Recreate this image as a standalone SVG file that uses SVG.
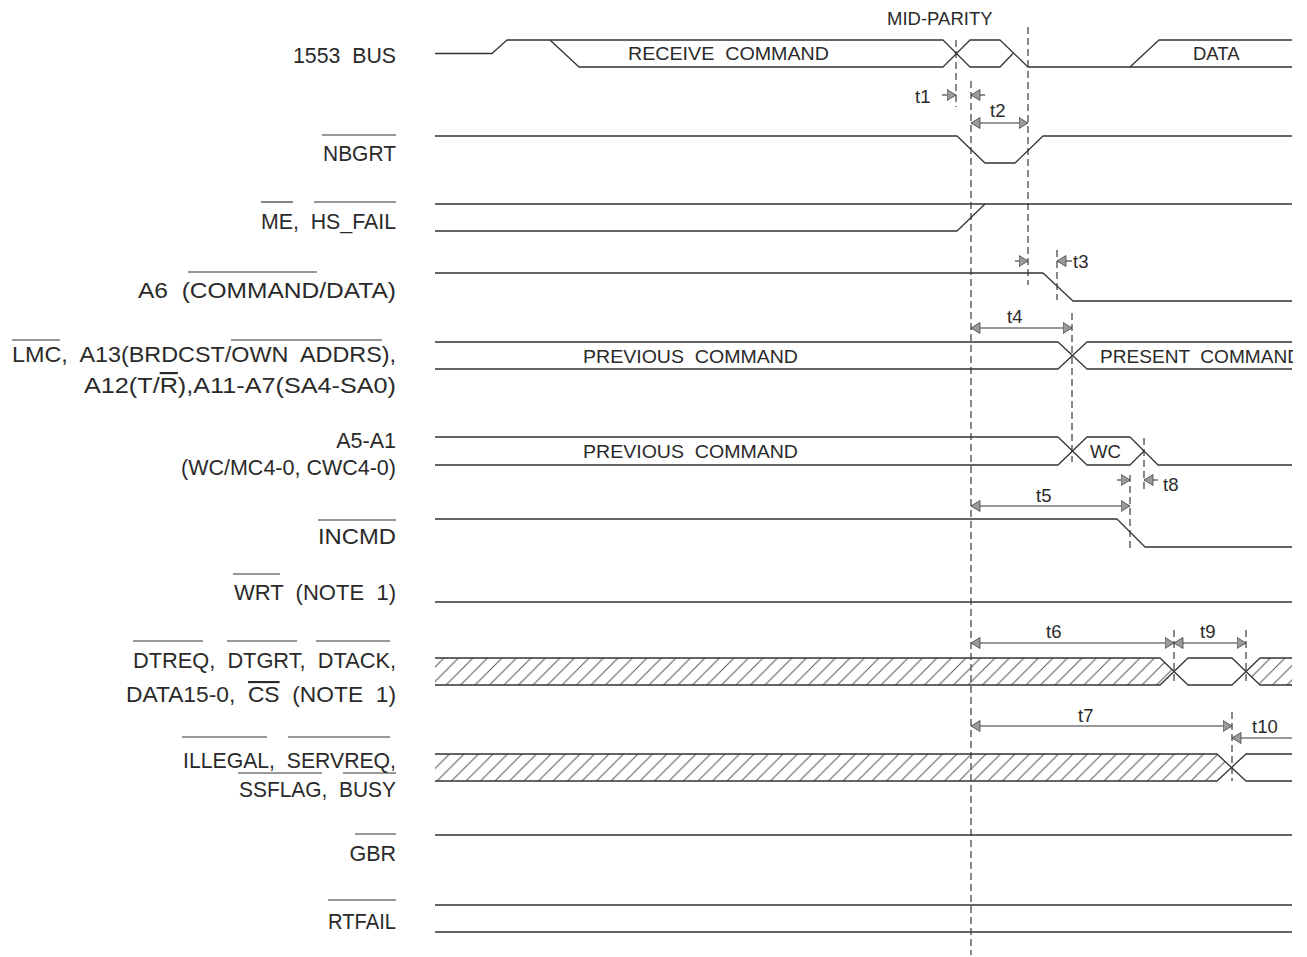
<svg xmlns="http://www.w3.org/2000/svg" width="1307" height="957" viewBox="0 0 1307 957">
<defs>
<style>
.sig{fill:none;stroke:#333;stroke-width:1.3;stroke-linejoin:round}
.ov{stroke:#333;stroke-width:1.2}
.guide{fill:none;stroke:#3a3a3a;stroke-width:1.2;stroke-dasharray:7 4}
.dim{fill:none;stroke:#333;stroke-width:1.1}
.lbl{font-family:"Liberation Sans",Arial,sans-serif;font-size:21.5px;fill:#2a2a2a;text-anchor:end}
.in{font-family:"Liberation Sans",Arial,sans-serif;font-size:18.5px;fill:#2a2a2a}
.hatch{fill:url(#hatch);stroke:none}
</style>
<pattern id="hatch" patternUnits="userSpaceOnUse" width="14.5" height="14.5">
<path d="M0,14.5 L14.5,0 M-3.625,3.625 L3.625,-3.625 M10.875,18.125 L18.125,10.875" stroke="#555" stroke-width="1"/>
</pattern>
<marker id="ah" markerUnits="userSpaceOnUse" markerWidth="13" markerHeight="13" viewBox="0 0 13 13" refX="9.5" refY="6" orient="auto-start-reverse">
<path d="M0.5,0.5 L9.5,6 L0.5,11.5 Z" fill="#9a9a9a" stroke="#444" stroke-width="0.8"/>
</marker>
<clipPath id="rclip"><rect x="0" y="0" width="1293" height="957"/></clipPath>
</defs>
<rect width="1307" height="957" fill="#ffffff"/>

<g id="guides">
<line class="guide" x1="956" y1="40" x2="956" y2="107"/>
<line class="guide" x1="971" y1="81" x2="971" y2="955"/>
<line class="guide" x1="1028" y1="27" x2="1028" y2="285"/>
<line class="guide" x1="1057" y1="250" x2="1057" y2="300"/>
<line class="guide" x1="1072" y1="313" x2="1072" y2="462"/>
<line class="guide" x1="1144" y1="438" x2="1144" y2="492"/>
<line class="guide" x1="1130" y1="475" x2="1130" y2="548"/>
<line class="guide" x1="1174" y1="630" x2="1174" y2="685"/>
<line class="guide" x1="1246" y1="630" x2="1246" y2="685"/>
<line class="guide" x1="1232" y1="712" x2="1232" y2="781"/>
</g>

<g id="sig-1553bus">
<text class="lbl" x="396" y="63" xml:space="preserve" textLength="103" lengthAdjust="spacingAndGlyphs">1553  BUS</text>
<path class="sig" d="M435,53.5 L492,53.5 L507,40 L943,40 L970,67 L1000,67 L1013,53.5"/>
<path class="sig" d="M550,40 L579,67 L943,67 L970,40 L1000,40 L1028,67 L1292,67"/>
<path class="sig" d="M1130,67 L1159,40 L1292,40"/>
<text class="in" x="628" y="60" xml:space="preserve" textLength="201" lengthAdjust="spacingAndGlyphs">RECEIVE  COMMAND</text>
<text class="in" x="1193" y="60">DATA</text>
<text class="in" x="887" y="25" font-size="18">MID-PARITY</text>
</g>

<g id="sig-nbgrt">
<text class="lbl" x="396" y="161" textLength="73" lengthAdjust="spacingAndGlyphs">NBGRT</text>
<line class="ov" x1="322" y1="135" x2="396" y2="135"/>
<path class="sig" d="M435,136 L957,136 L985,163 L1015,163 L1043,136 L1292,136"/>
</g>

<g id="sig-me-hsfail">
<text class="lbl" x="396" y="229" xml:space="preserve" textLength="135" lengthAdjust="spacingAndGlyphs">ME,  HS_FAIL</text>
<line class="ov" x1="261" y1="202" x2="293" y2="202"/>
<line class="ov" x1="314" y1="202" x2="396" y2="202"/>
<path class="sig" d="M435,204 L1292,204"/>
<path class="sig" d="M435,231 L957,231 L985,204"/>
</g>

<g id="sig-a6">
<text class="lbl" x="396" y="298" xml:space="preserve" textLength="258" lengthAdjust="spacingAndGlyphs">A6  (COMMAND/DATA)</text>
<line class="ov" x1="188" y1="272" x2="317" y2="272"/>
<path class="sig" d="M435,273 L1043,273 L1073,301 L1292,301"/>
</g>

<g id="sig-lmc">
<text class="lbl" x="396" y="362" xml:space="preserve" textLength="384" lengthAdjust="spacingAndGlyphs">LMC,  A13(BRDCST/OWN  ADDRS),</text>
<text class="lbl" x="396" y="393" textLength="312" lengthAdjust="spacingAndGlyphs">A12(T/<tspan text-decoration="overline">R</tspan>),A11-A7(SA4-SA0)</text>
<line class="ov" x1="12" y1="340" x2="60" y2="340"/>
<line class="ov" x1="231" y1="340" x2="382" y2="340"/>
<path class="sig" d="M435,342 L1058,342 L1087,369 L1292,369"/>
<path class="sig" d="M435,369 L1058,369 L1087,342 L1292,342"/>
<text class="in" x="583" y="363" xml:space="preserve" textLength="215" lengthAdjust="spacingAndGlyphs">PREVIOUS  COMMAND</text>
<text class="in" x="1100" y="363" xml:space="preserve" textLength="201" lengthAdjust="spacingAndGlyphs" clip-path="url(#rclip)">PRESENT  COMMAND</text>
</g>

<g id="sig-a5a1">
<text class="lbl" x="396" y="448">A5-A1</text>
<text class="lbl" x="396" y="475">(WC/MC4-0, CWC4-0)</text>
<path class="sig" d="M435,437 L1058,437 L1087,465 L1130,465 L1144,451"/>
<path class="sig" d="M435,465 L1058,465 L1087,437 L1130,437 L1158,465 L1292,465"/>
<text class="in" x="583" y="458" xml:space="preserve" textLength="215" lengthAdjust="spacingAndGlyphs">PREVIOUS  COMMAND</text>
<text class="in" x="1090" y="458">WC</text>
</g>

<g id="sig-incmd">
<text class="lbl" x="396" y="544" textLength="78" lengthAdjust="spacingAndGlyphs">INCMD</text>
<line class="ov" x1="318" y1="520" x2="396" y2="520"/>
<path class="sig" d="M435,519 L1117,519 L1145,547 L1292,547"/>
</g>

<g id="sig-wrt">
<text class="lbl" x="396" y="600" xml:space="preserve" textLength="162" lengthAdjust="spacingAndGlyphs">WRT  (NOTE  1)</text>
<line class="ov" x1="233" y1="574" x2="280" y2="574"/>
<path class="sig" d="M435,602 L1292,602"/>
</g>

<g id="sig-dtreq">
<text class="lbl" x="396" y="668" xml:space="preserve" textLength="263" lengthAdjust="spacingAndGlyphs">DTREQ,  DTGRT,  DTACK,</text>
<text class="lbl" x="396" y="702" xml:space="preserve" textLength="270" lengthAdjust="spacingAndGlyphs">DATA15-0,  <tspan text-decoration="overline">CS</tspan>  (NOTE  1)</text>
<line class="ov" x1="133" y1="641" x2="203" y2="641"/>
<line class="ov" x1="227" y1="641" x2="297" y2="641"/>
<line class="ov" x1="316" y1="641" x2="390" y2="641"/>
<polygon class="hatch" points="435,658 1160,658 1174,671.5 1160,685 435,685"/>
<polygon class="hatch" points="1246,671.5 1260,658 1292,658 1292,685 1260,685"/>
<path class="sig" d="M435,658 L1160,658 L1188,685 L1232,685 L1260,658 L1292,658"/>
<path class="sig" d="M435,685 L1160,685 L1188,658 L1232,658 L1260,685 L1292,685"/>
</g>

<g id="sig-illegal">
<text class="lbl" x="396" y="768" xml:space="preserve" textLength="213" lengthAdjust="spacingAndGlyphs">ILLEGAL,  SERVREQ,</text>
<text class="lbl" x="396" y="797" xml:space="preserve" textLength="157" lengthAdjust="spacingAndGlyphs">SSFLAG,  BUSY</text>
<line class="ov" x1="182" y1="737" x2="267" y2="737"/>
<line class="ov" x1="288" y1="737" x2="390" y2="737"/>
<line class="ov" x1="238" y1="773" x2="322" y2="773"/>
<line class="ov" x1="343" y1="773" x2="396" y2="773"/>
<polygon class="hatch" points="435,754 1217,754 1232,767.5 1217,781 435,781"/>
<path class="sig" d="M435,754 L1217,754 L1246,781 L1292,781"/>
<path class="sig" d="M435,781 L1217,781 L1246,754 L1292,754"/>
</g>

<g id="sig-gbr">
<text class="lbl" x="396" y="861">GBR</text>
<line class="ov" x1="355" y1="834" x2="396" y2="834"/>
<path class="sig" d="M435,835 L1292,835"/>
</g>

<g id="sig-rtfail">
<text class="lbl" x="396" y="929" textLength="68" lengthAdjust="spacingAndGlyphs">RTFAIL</text>
<line class="ov" x1="328" y1="900" x2="396" y2="900"/>
<path class="sig" d="M435,905 L1292,905"/>
<path class="sig" d="M435,932 L1292,932"/>
</g>

<g id="connectors">
<line class="dim" x1="942" y1="95" x2="956" y2="95" marker-end="url(#ah)"/>
<line class="dim" x1="985" y1="95" x2="971" y2="95" marker-end="url(#ah)"/>
<line class="dim" x1="971" y1="123" x2="1028" y2="123" marker-start="url(#ah)" marker-end="url(#ah)"/>
<line class="dim" x1="1015" y1="261" x2="1028" y2="261" marker-end="url(#ah)"/>
<line class="dim" x1="1072" y1="261" x2="1057" y2="261" marker-end="url(#ah)"/>
<line class="dim" x1="971" y1="328" x2="1072" y2="328" marker-start="url(#ah)" marker-end="url(#ah)"/>
<line class="dim" x1="1117" y1="480" x2="1130" y2="480" marker-end="url(#ah)"/>
<line class="dim" x1="1158" y1="480" x2="1144" y2="480" marker-end="url(#ah)"/>
<line class="dim" x1="971" y1="506" x2="1130" y2="506" marker-start="url(#ah)" marker-end="url(#ah)"/>
<line class="dim" x1="971" y1="643" x2="1174" y2="643" marker-start="url(#ah)" marker-end="url(#ah)"/>
<line class="dim" x1="1174" y1="643" x2="1246" y2="643" marker-start="url(#ah)" marker-end="url(#ah)"/>
<line class="dim" x1="971" y1="726" x2="1232" y2="726" marker-start="url(#ah)" marker-end="url(#ah)"/>
<line class="dim" x1="1292" y1="738" x2="1232" y2="738" marker-end="url(#ah)"/>
<text class="in" x="915" y="103">t1</text>
<text class="in" x="990" y="117">t2</text>
<text class="in" x="1073" y="268">t3</text>
<text class="in" x="1007" y="323">t4</text>
<text class="in" x="1036" y="502">t5</text>
<text class="in" x="1046" y="638">t6</text>
<text class="in" x="1078" y="722">t7</text>
<text class="in" x="1163" y="491">t8</text>
<text class="in" x="1200" y="638">t9</text>
<text class="in" x="1252" y="733">t10</text>
</g>
</svg>
